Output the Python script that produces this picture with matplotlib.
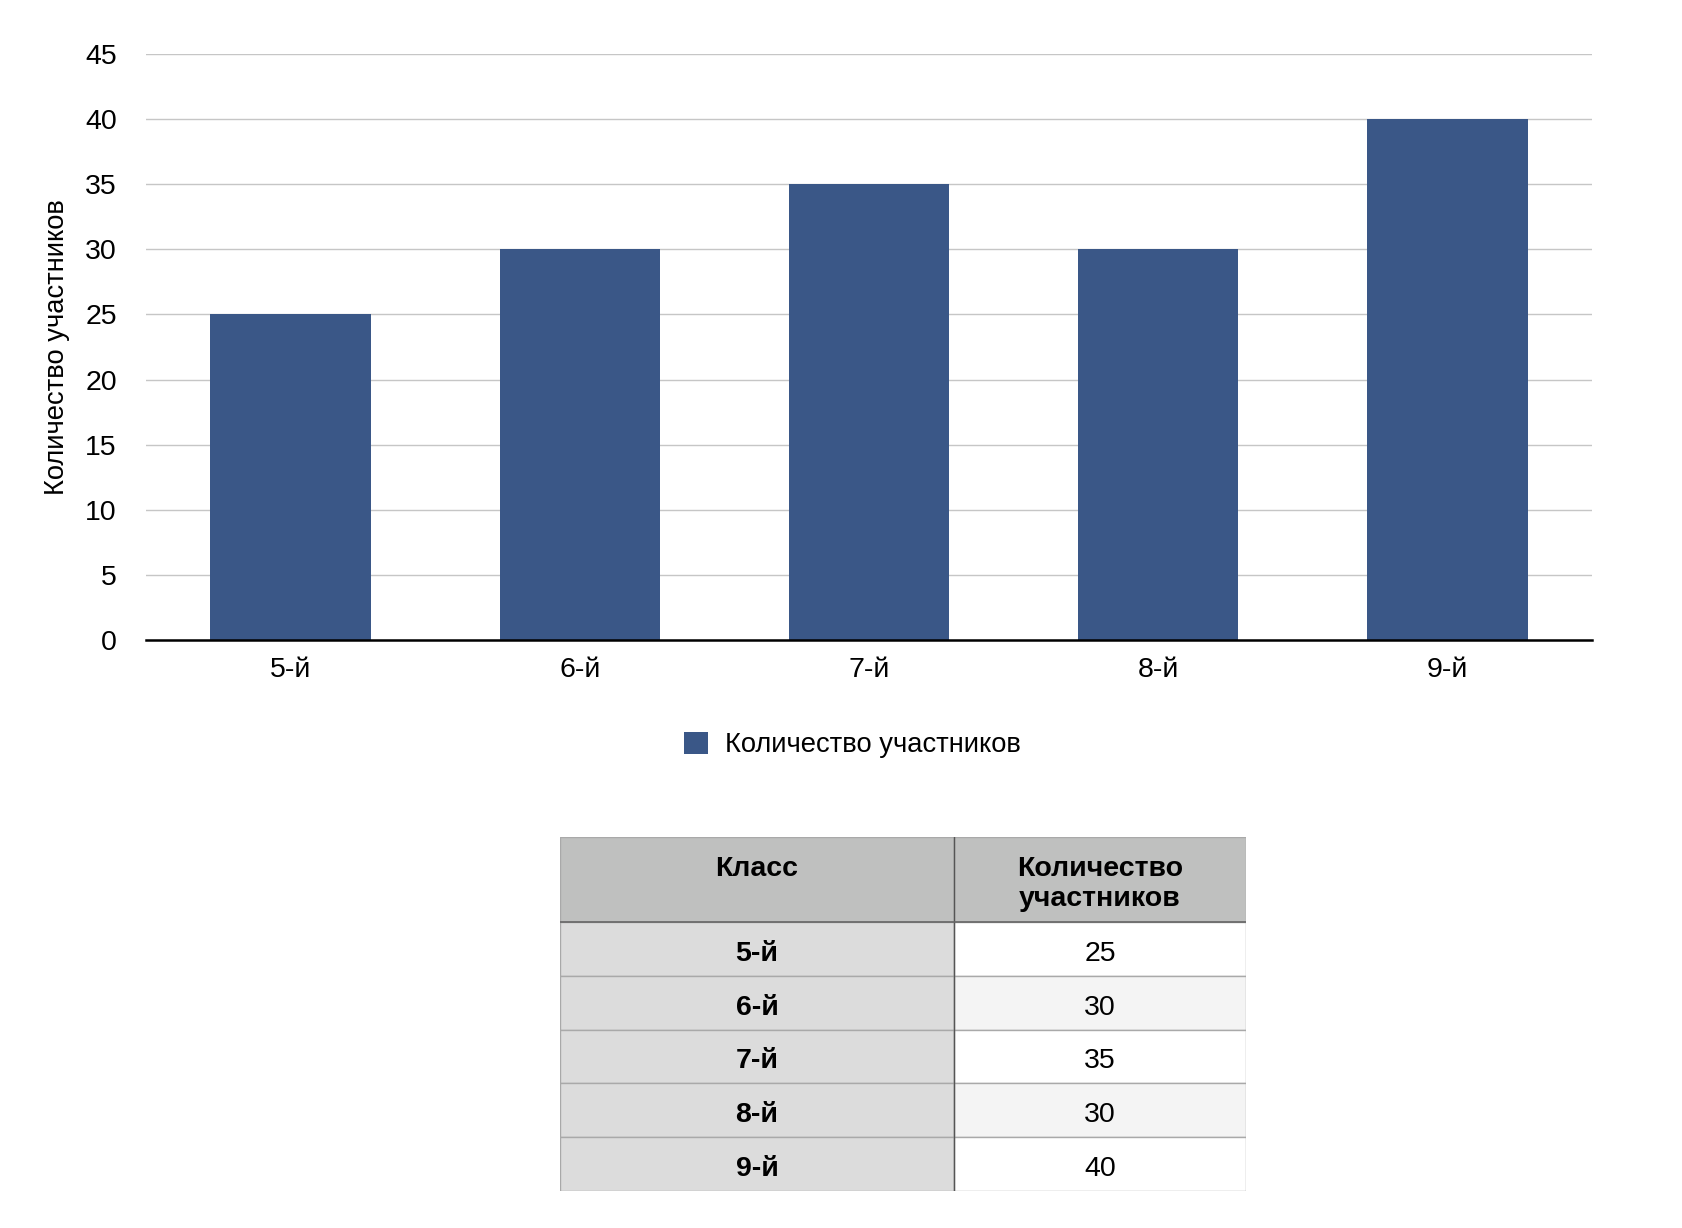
import matplotlib
matplotlib.use('Agg')
import matplotlib.pyplot as plt
from matplotlib.patches import Rectangle

plt.rcParams['font.family'] = ['Liberation Sans', 'DejaVu Sans']

classes = ['5-й', '6-й', '7-й', '8-й', '9-й']
counts = [25, 30, 35, 30, 40]
series_name = 'Количество участников'
col_headers = ['Класс\n ', 'Количество\nучастников']
y_ticks = [0, 5, 10, 15, 20, 25, 30, 35, 40, 45]

bar_color = '#3a5787'
W, H = 1682, 1228

fig = plt.figure(figsize=(W / 100, H / 100), dpi=100)

# chart
ax = fig.add_axes([146 / W, 1 - 640.4 / H, (1592 - 146) / W, (640.4 - 53.6) / H])
x = range(len(classes))
bars = ax.bar(x, counts, width=0.555, color=bar_color, label=series_name, zorder=3)
ax.set_xlim(-0.5, len(classes) - 0.5)
ax.set_ylim(0, 45)
ax.set_yticks(y_ticks)
ax.set_xticks(list(x))
ax.set_xticklabels(classes)
ax.tick_params(axis='both', length=0, labelsize=20.5)
ax.tick_params(axis='y', pad=21)
ax.tick_params(axis='x', pad=12)
ax.grid(axis='y', color='#c6c6c6', linewidth=1, zorder=0)
for s in ['top', 'right', 'left']:
    ax.spines[s].set_visible(False)
ax.spines['bottom'].set_linewidth(1.8)
ax.spines['bottom'].set_color('black')
ax.spines['bottom'].set_zorder(4)
ax.set_ylabel(series_name, fontsize=19.7)
ax.yaxis.set_label_coords(-76 / (1592 - 146), 0.5)

fig.legend(handles=[bars], labels=[series_name], loc='center',
           bbox_to_anchor=(852 / W, 1 - 745 / H), frameon=False, fontsize=19.7,
           handlelength=0.9, handleheight=0.9, handletextpad=0.6)

# table
tx0, tx1, ty0, ty1 = 560, 1246, 837, 1191
tax = fig.add_axes([tx0 / W, 1 - ty1 / H, (tx1 - tx0) / W, (ty1 - ty0) / H])
tax.set_xlim(0, tx1 - tx0)
tax.set_ylim(ty1 - ty0, 0)
tax.axis('off')

col_w = [394, 292]
head_h = 85
row_h = (ty1 - ty0 - head_h) / len(classes)
edge = '#a9a9a9'
tsize = 20.5

# header
xpos = 0
for j, name in enumerate(col_headers):
    tax.add_patch(Rectangle((xpos, 0), col_w[j], head_h, facecolor='#bfc0bf',
                            edgecolor=edge, linewidth=1))
    tax.text(xpos + col_w[j] / 2, head_h / 2 + 4, name, ha='center', va='center',
             fontsize=tsize, fontweight='bold', linespacing=1.2)
    xpos += col_w[j]

for i, (c, v) in enumerate(zip(classes, counts)):
    y = head_h + i * row_h
    tax.add_patch(Rectangle((0, y), col_w[0], row_h, facecolor='#dcdcdc',
                            edgecolor=edge, linewidth=1))
    tax.add_patch(Rectangle((col_w[0], y), col_w[1], row_h,
                            facecolor='white' if i % 2 == 0 else '#f4f4f4',
                            edgecolor=edge, linewidth=1))
    tax.text(col_w[0] / 2, y + row_h / 2 + 2, c, ha='center', va='center_baseline',
             fontsize=tsize, fontweight='bold')
    tax.text(col_w[0] + col_w[1] / 2, y + row_h / 2 + 2, str(v), ha='center',
             va='center_baseline', fontsize=tsize)

tax.plot([col_w[0], col_w[0]], [0, ty1 - ty0], color='#555555', linewidth=1)
tax.plot([0, sum(col_w)], [head_h, head_h], color='#666666', linewidth=1.2)

fig.savefig('out.png', dpi=100)
